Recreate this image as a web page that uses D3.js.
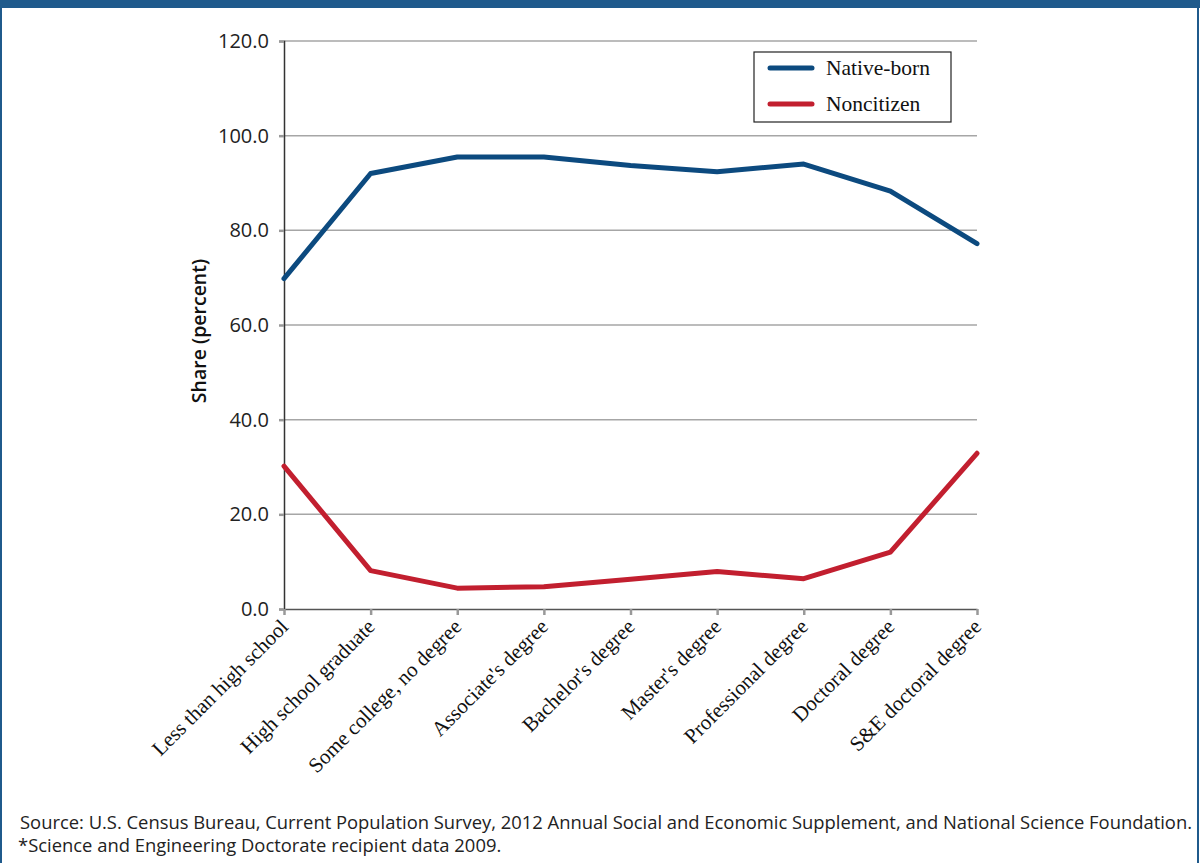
<!DOCTYPE html>
<meta charset="utf-8">
<script src="https://d3js.org/d3.v7.min.js"></script>
<style>
  body { margin: 0; background: #fff; }
</style>
<div id="my_dataviz"></div>
<script>

// data
var categories = ["Less than high school", "High school graduate", "Some college, no degree",
  "Associate's degree", "Bachelor's degree", "Master's degree", "Professional degree",
  "Doctoral degree", "S&E doctoral degree"];
var nativeBorn = [69.8, 92.0, 95.5, 95.5, 93.7, 92.4, 94.0, 88.3, 77.2];
var noncitizen = [30.2, 8.1, 4.4, 4.7, 6.3, 7.9, 6.4, 12.0, 32.9];
var yTicks = [0, 20, 40, 60, 80, 100, 120];
var seriesNames = ["Native-born", "Noncitizen"];

var W = 1200, H = 863;
var margin = {top: 41, right: 223, bottom: 254, left: 284},
    width = W - margin.left - margin.right,
    height = H - margin.top - margin.bottom;

var svg = d3.select("#my_dataviz")
  .append("svg")
    .attr("width", W)
    .attr("height", H);

// page frame
svg.append("rect").attr("x", 0).attr("y", 0).attr("width", W).attr("height", 8).attr("fill", "#1f5a8c");
svg.append("line").attr("x1", 1).attr("x2", 1).attr("y1", 0).attr("y2", H).attr("stroke", "#1f5a8c").attr("stroke-width", 2);
svg.append("line").attr("x1", W - 2).attr("x2", W - 2).attr("y1", 0).attr("y2", H).attr("stroke", "#1f5a8c").attr("stroke-width", 2);

var g = svg.append("g")
  .attr("transform", "translate(" + margin.left + "," + margin.top + ")");

var x = d3.scalePoint()
  .domain(categories)
  .range([0, width]);

var y = d3.scaleLinear()
  .domain([0, 120])
  .range([height, 0]);

// gridlines
g.selectAll(".grid")
  .data(yTicks.filter(function(d) { return d > 0; }))
  .enter().append("line")
    .attr("x1", 0).attr("x2", width)
    .attr("y1", function(d) { return y(d); })
    .attr("y2", function(d) { return y(d); })
    .attr("stroke", "#a6a6a6")
    .attr("stroke-width", 1.5);

// Y axis
var yAxis = g.append("g")
  .call(d3.axisLeft(y).tickValues(yTicks).tickFormat(d3.format(".1f")).tickSize(5).tickPadding(10));
yAxis.select(".domain").attr("stroke", "#333").attr("stroke-width", 1.5);
yAxis.selectAll(".tick line").attr("stroke", "#999").attr("stroke-width", 2.5);
yAxis.selectAll("text")
  .attr("font-family", "'Open Sans', sans-serif")
  .attr("font-size", 20)
  .attr("fill", "#222");

// X axis
var xAxis = g.append("g")
  .attr("transform", "translate(0," + height + ")")
  .call(d3.axisBottom(x).tickSize(6).tickSizeOuter(0));
xAxis.select(".domain").attr("stroke", "#555").attr("stroke-width", 1.5);
xAxis.selectAll(".tick line").attr("stroke", "#999").attr("stroke-width", 2.5);
xAxis.selectAll("text")
  .attr("font-family", "'Liberation Serif', 'DejaVu Serif', serif")
  .attr("font-size", 21)
  .attr("fill", "#111")
  .attr("text-anchor", "end")
  .attr("dy", null)
  .attr("y", 0)
  .attr("transform", "translate(5,19) rotate(-45)");

// axis title
g.append("text")
  .attr("transform", "translate(" + (-78) + "," + (height / 2 + 6) + ") rotate(-90)")
  .attr("text-anchor", "middle")
  .attr("font-family", "'Open Sans', sans-serif")
  .attr("font-size", 19.5)
  .attr("font-weight", 600)
  .attr("fill", "#111")
  .text("Share (percent)");

// lines
var colors = ["#0c4a7f", "#c21f2f"];
var line = d3.line()
  .x(function(d, i) { return x(categories[i]); })
  .y(function(d) { return y(d); });

[nativeBorn, noncitizen].forEach(function(s, k) {
  g.append("path")
    .datum(s)
    .attr("fill", "none")
    .attr("stroke", colors[k])
    .attr("stroke-width", 5)
    .attr("stroke-linejoin", "round")
    .attr("stroke-linecap", "round")
    .attr("d", line);
});

// legend
var lg = svg.append("g").attr("transform", "translate(754,52)");
lg.append("rect").attr("width", 197).attr("height", 70)
  .attr("fill", "#fff").attr("stroke", "#222").attr("stroke-width", 1.2);
seriesNames.forEach(function(n, k) {
  lg.append("line")
    .attr("x1", 16).attr("x2", 58)
    .attr("y1", 16 + k * 36).attr("y2", 16 + k * 36)
    .attr("stroke", colors[k]).attr("stroke-width", 5).attr("stroke-linecap", "round");
  lg.append("text")
    .attr("x", 72).attr("y", 23 + k * 36)
    .attr("font-family", "'Liberation Serif', 'DejaVu Serif', serif")
    .attr("font-size", 21.5)
    .attr("fill", "#111")
    .text(n);
});

// source note
svg.append("text")
  .attr("x", 20).attr("y", 829)
  .attr("font-family", "'Open Sans', sans-serif")
  .attr("font-size", 18.4)
  .attr("textLength", 1172)
  .attr("lengthAdjust", "spacing")
  .attr("fill", "#222")
  .text("Source: U.S. Census Bureau, Current Population Survey, 2012 Annual Social and Economic Supplement, and National Science Foundation.");
svg.append("text")
  .attr("x", 18).attr("y", 852)
  .attr("font-family", "'Open Sans', sans-serif")
  .attr("font-size", 18.4)
  .attr("fill", "#222")
  .text("*Science and Engineering Doctorate recipient data 2009.");

</script>
